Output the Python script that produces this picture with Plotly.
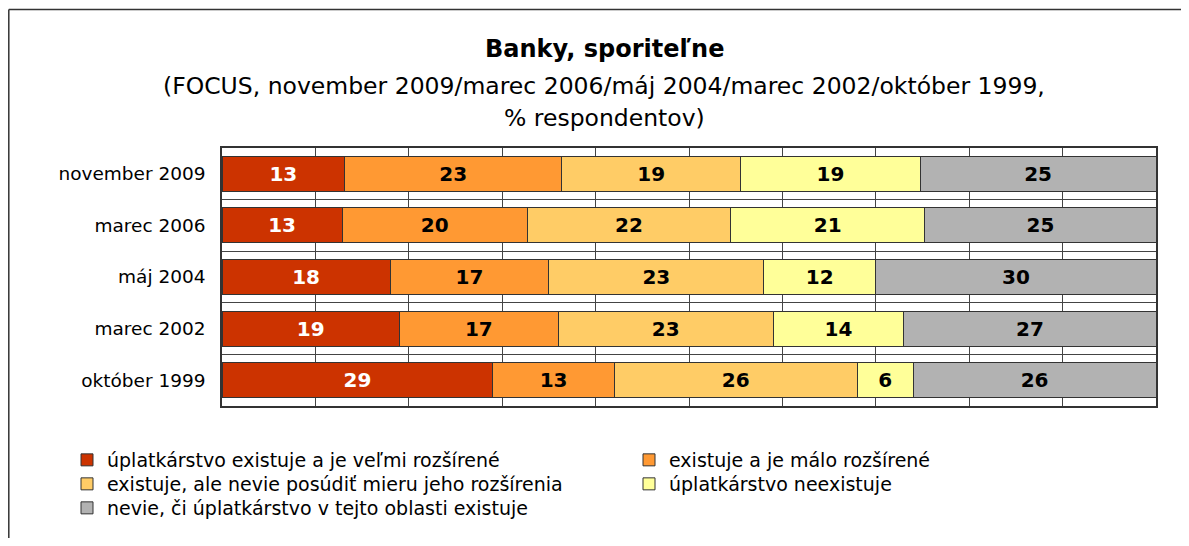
import plotly.graph_objects as go

categories = ["november 2009", "marec 2006", "máj 2004", "marec 2002", "október 1999"]
series_names = [
    "úplatkárstvo existuje a je veľmi rozšírené",
    "existuje a je málo rozšírené",
    "existuje, ale nevie posúdiť mieru jeho rozšírenia",
    "úplatkárstvo neexistuje",
    "nevie, či úplatkárstvo v tejto oblasti existuje",
]
s1 = [13, 13, 18, 19, 29]
s2 = [23, 20, 17, 17, 13]
s3 = [19, 22, 23, 23, 26]
s4 = [19, 21, 12, 14, 6]
s5 = [25, 25, 30, 27, 26]
series_values = [s1, s2, s3, s4, s5]
colors = ["#CC3300", "#FF9933", "#FFCC66", "#FFFF99", "#B2B2B2"]
text_colors = ["white", "black", "black", "black", "black"]
legend_ids = ["legend", "legend2", "legend3", "legend4", "legend5"]

FONT = "DejaVu Sans"
OFF = 8  # default page body margin
W, H = 1189 - 2 * OFF, 546 - 2 * OFF
# plot area in page coordinates
L, R, T, B = 222, 1156, 148, 406

fig = go.Figure()
for name, vals, col, tc, lg in zip(series_names, series_values, colors, text_colors, legend_ids):
    fig.add_trace(go.Bar(
        y=categories, x=vals, name=name, orientation="h",
        marker=dict(color=col, line=dict(color="#333333", width=1)),
        text=vals, texttemplate="%{text}", textposition="inside",
        insidetextanchor="middle", constraintext="none",
        textfont=dict(family=FONT, size=20, color=tc, weight="bold"),
        hoverinfo="skip", legend=lg,
    ))

def px(x):
    return (x - L) / (R - L)

def py(y):
    return (B - y) / (B - T)

legend_common = dict(
    orientation="v", yanchor="middle", xanchor="left",
    font=dict(family=FONT, size=19, color="black"),
    itemwidth=30, tracegroupgap=0, traceorder="normal",
    bgcolor="rgba(0,0,0,0)",
)
col_x = [67, 629, 67, 629, 67]
row_y = [460, 460, 484, 484, 508]
legends = {}
for lg, lx, ly in zip(legend_ids, col_x, row_y):
    legends[lg] = dict(x=px(lx), y=py(ly), **legend_common)

border = dict(color="#333333", width=1.5)

fig.update_layout(
    width=W, height=H,
    margin=dict(l=L - OFF, r=(W + OFF) - R, t=T - OFF, b=(H + OFF) - B, pad=0, autoexpand=False),
    barmode="stack", barnorm="percent", bargap=0.32,
    paper_bgcolor="white", plot_bgcolor="white",
    font=dict(family=FONT, size=18, color="black"),
    showlegend=True,
    xaxis=dict(
        range=[0, 100], dtick=10, showgrid=True, gridcolor="#444444", gridwidth=1,
        showticklabels=False, ticks="", zeroline=False,
        showline=True, linecolor="#333333", linewidth=1.5, mirror=True,
    ),
    yaxis=dict(
        type="category", categoryorder="array", categoryarray=categories,
        autorange="reversed", tickson="boundaries", showgrid=True,
        gridcolor="#444444", gridwidth=1, ticks="", ticklen=0,
        showline=True, linecolor="#333333", linewidth=1.5, mirror=True,
        tickfont=dict(family=FONT, size=18.5, color="black"),
        ticklabelstandoff=11, automargin=False,
    ),
    shapes=[
        dict(type="line", xref="paper", yref="paper",
             x0=px(8.8), x1=px(1189), y0=py(9.5), y1=py(9.5), line=border, layer="above"),
        dict(type="line", xref="paper", yref="paper",
             x0=px(8.8), x1=px(8.8), y0=py(9.5), y1=py(546), line=border, layer="above"),
    ],
    annotations=[
        dict(text="<b>Banky, sporiteľne</b>", xref="paper", yref="paper",
             x=px(604), y=py(49), xanchor="center", yanchor="middle", showarrow=False,
             font=dict(family=FONT, size=24, color="black")),
        dict(text="(FOCUS, november 2009/marec 2006/máj 2004/marec 2002/október 1999,",
             xref="paper", yref="paper",
             x=px(604), y=py(86), xanchor="center", yanchor="middle", showarrow=False,
             font=dict(family=FONT, size=23.5, color="black")),
        dict(text="% respondentov)", xref="paper", yref="paper",
             x=px(604), y=py(118), xanchor="center", yanchor="middle", showarrow=False,
             font=dict(family=FONT, size=23.5, color="black")),
    ],
    **legends,
)

fig.write_html("out.html")
